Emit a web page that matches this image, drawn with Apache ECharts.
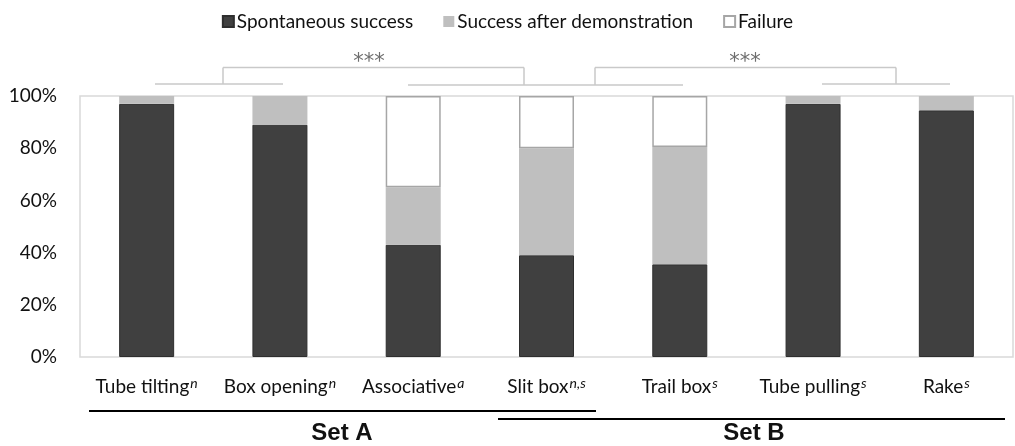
<!DOCTYPE html>
<html>
<head>
<meta charset="utf-8" />
<title>Task success</title>
<script src="https://cdn.jsdelivr.net/npm/echarts@6/dist/echarts.min.js"></script>
<style>
  html, body { margin: 0; padding: 0; background: #fff; }
  #main { width: 1015px; height: 446px; }
</style>
</head>
<body>
<div id="main"></div>
<script>
// data
var tasks = ['Tube tilting', 'Box opening', 'Associative', 'Slit box', 'Trail box', 'Tube pulling', 'Rake'];
var marks = ['n', 'n', 'a', 'n,s', 's', 's', 's'];
var spontaneous = [97, 89, 43, 39, 35.5, 97, 94.5];
var afterDemo = [3, 11, 22, 41, 45, 3, 5.5];
var failure = [0, 0, 35, 20, 19.5, 0, 0];
var yTicks = [0, 20, 40, 60, 80, 100];

var font = 'Lato, "Open Sans", sans-serif';
var chart = echarts.init(document.getElementById('main'));

// zero-height failure bars are left out
function noZero(arr) {
  return arr.map(function (v) { return v === 0 ? '-' : v; });
}

var bracketStyle = { stroke: '#c9c9c9', lineWidth: 1.5 };
function seg(x1, y1, x2, y2, style) {
  return { type: 'line', shape: { x1: x1, y1: y1, x2: x2, y2: y2 }, style: style, silent: true };
}
function label(x, y, text, f, color) {
  return { type: 'text', x: x, y: y, silent: true,
    style: { text: text, fill: color, font: f, textAlign: 'center', textVerticalAlign: 'middle' } };
}

chart.setOption({
  animation: false,
  textStyle: { fontFamily: font },
  legend: {
    top: 7,
    left: 'center',
    itemWidth: 11,
    itemHeight: 11,
    itemGap: 30,
    icon: 'rect',
    textStyle: { fontSize: 19, color: '#111', fontFamily: font, padding: [0, 0, 0, -2] },
    data: ['Spontaneous success', 'Success after demonstration', 'Failure']
  },
  grid: {
    left: 80, right: 2, top: 96, bottom: 89,
    show: true, borderColor: '#d9d9d9', borderWidth: 1.5
  },
  xAxis: {
    type: 'category',
    data: tasks,
    axisLine: { show: false },
    axisTick: { show: false },
    axisLabel: {
      margin: 19,
      interval: 0,
      formatter: function (v, i) { return v + '{sup|' + marks[i] + '}'; },
      color: '#111',
      fontSize: 19,
      fontFamily: font,
      rich: {
        sup: { fontSize: 14, fontStyle: 'italic', verticalAlign: 'top', padding: [0, 0, 8, 1], color: '#111', fontFamily: font }
      }
    }
  },
  yAxis: {
    type: 'value',
    min: 0, max: 100, interval: 20,
    axisLine: { show: false },
    axisTick: { show: false },
    splitLine: { show: false },
    axisLabel: {
      margin: 23,
      color: '#111',
      fontSize: 19,
      fontFamily: font,
      formatter: function (v) { return yTicks.indexOf(v) >= 0 ? v + '%' : ''; }
    }
  },
  series: [
    {
      name: 'Spontaneous success', type: 'bar', stack: 'all', barWidth: 55,
      itemStyle: { color: '#404040', borderColor: '#2e2e2e', borderWidth: 1 },
      data: spontaneous
    },
    {
      name: 'Success after demonstration', type: 'bar', stack: 'all', barWidth: 55,
      itemStyle: { color: '#bfbfbf' },
      data: afterDemo
    },
    {
      name: 'Failure', type: 'bar', stack: 'all', barWidth: 55,
      itemStyle: { color: '#ffffff', borderColor: '#a6a6a6', borderWidth: 1.5 },
      data: noZero(failure)
    }
  ],
  graphic: [
    // significance brackets
    seg(155, 84, 283, 84, bracketStyle),
    seg(223, 84, 223, 67.5, bracketStyle),
    seg(223, 67.5, 524, 67.5, bracketStyle),
    seg(524, 67.5, 524, 85, bracketStyle),
    seg(408, 85, 683, 85, bracketStyle),
    seg(595, 85, 595, 67.5, bracketStyle),
    seg(595, 67.5, 896, 67.5, bracketStyle),
    seg(896, 67.5, 896, 84, bracketStyle),
    seg(822, 84, 950, 84, bracketStyle),
    label(369, 63, '***', '21px "DejaVu Sans", sans-serif', '#6e6e6e'),
    label(745, 63, '***', '21px "DejaVu Sans", sans-serif', '#6e6e6e'),
    // set groupings under the axis
    seg(89, 411, 596, 411, { stroke: '#000', lineWidth: 2 }),
    seg(498, 419, 1005, 419, { stroke: '#000', lineWidth: 2 }),
    label(342, 433, 'Set A', 'bold 24px "Liberation Sans", Arial, sans-serif', '#111'),
    label(754, 433, 'Set B', 'bold 24px "Liberation Sans", Arial, sans-serif', '#111')
  ]
});
</script>
</body>
</html>
